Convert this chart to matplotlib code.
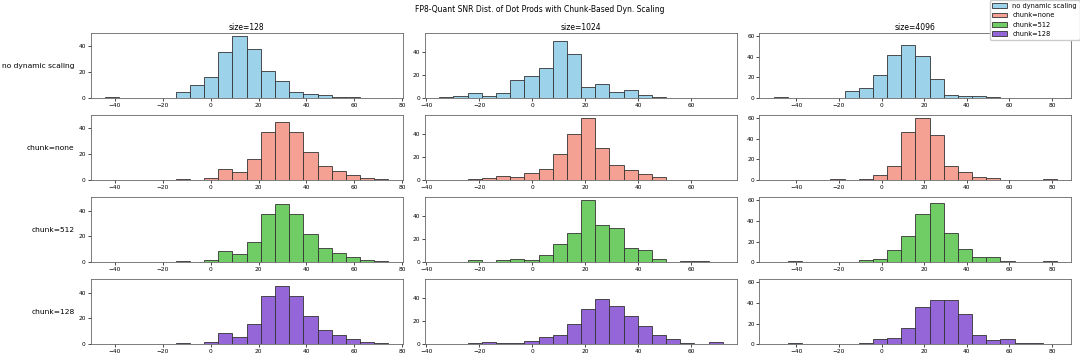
import matplotlib
matplotlib.use('Agg')
import matplotlib.pyplot as plt
import numpy as np

# column settings: histogram range (20 bins per column)
sizes = [128, 1024, 4096]
col_lo = [-44.2, -35.1, -50.6]
col_hi = [74.3, 72.0, 82.4]

row_names = ["no dynamic scaling", "chunk=none", "chunk=512", "chunk=128"]
row_colors = ["#9cd3ea", "#f4a092", "#70cc64", "#9466d8"]

# bin counts, [row][col] -> 20 bins
counts_128_nods = [1, 0, 0, 0, 0, 5, 10, 16, 36, 48, 38, 21, 13, 5, 3, 2, 1, 1, 0, 0]
counts_128_chunk = [0, 0, 0, 0, 0, 1, 0, 2, 9, 6, 16, 37, 45, 37, 22, 11, 7, 4, 2, 1]

counts_1024_nods = [1, 2, 4, 2, 4, 16, 19, 26, 50, 38, 10, 12, 5, 7, 3, 1, 0, 0, 0, 0]
counts_1024_none = [0, 0, 1, 2, 4, 3, 6, 10, 23, 40, 54, 28, 13, 9, 5, 3, 0, 0, 0, 0]
counts_1024_512 = [0, 0, 2, 0, 2, 3, 2, 6, 16, 25, 54, 32, 30, 12, 11, 3, 0, 1, 1, 0]
counts_1024_128 = [0, 0, 1, 2, 1, 1, 3, 6, 8, 18, 31, 39, 33, 25, 16, 8, 5, 1, 0, 2]

counts_4096_nods = [1, 0, 0, 0, 0, 7, 10, 22, 42, 51, 41, 18, 3, 2, 2, 1, 0, 0, 0, 0]
counts_4096_none = [0, 0, 0, 0, 1, 0, 1, 5, 14, 47, 60, 44, 14, 8, 3, 2, 0, 0, 0, 1]
counts_4096_512 = [0, 1, 0, 0, 0, 0, 2, 3, 12, 25, 47, 57, 28, 13, 5, 5, 1, 0, 0, 1]
counts_4096_128 = [0, 1, 0, 0, 0, 0, 1, 5, 6, 16, 36, 43, 43, 29, 9, 4, 5, 1, 1, 0]

counts = [
    [counts_128_nods, counts_1024_nods, counts_4096_nods],
    [counts_128_chunk, counts_1024_none, counts_4096_none],
    [counts_128_chunk, counts_1024_512, counts_4096_512],
    [counts_128_chunk, counts_1024_128, counts_4096_128],
]

fig, axes = plt.subplots(4, 3, figsize=(10.8, 3.62), dpi=100,
                         sharex='col', sharey='col')
fig.subplots_adjust(left=0.084, right=0.992, top=0.909, bottom=0.049,
                    wspace=0.072, hspace=0.26)

handles = []
for c in range(3):
    edges = np.linspace(col_lo[c], col_hi[c], 21)
    mids = (edges[:-1] + edges[1:]) / 2
    for r in range(4):
        ax = axes[r, c]
        _, _, patches = ax.hist(mids, bins=edges, weights=counts[r][c],
                                color=row_colors[r], edgecolor='#333333',
                                linewidth=0.6, label=row_names[r])
        if c == 0:
            handles.append(patches[0])
            ax.text(-0.052, 0.5, row_names[r], transform=ax.transAxes,
                    ha='right', va='center', fontsize=5.4)
        if r == 0:
            ax.set_title(f"size={sizes[c]}", fontsize=5.5, pad=2)
        ax.tick_params(labelsize=4.2, length=2, width=0.5, pad=1.5,
                       labelbottom=True)
        for s in ax.spines.values():
            s.set_linewidth(0.6)
            s.set_color('#666666')

fig.suptitle("FP8-Quant SNR Dist. of Dot Prods with Chunk-Based Dyn. Scaling",
             fontsize=5.5, y=0.985)
fig.legend(handles, row_names, loc='upper right', fontsize=4.8,
           borderaxespad=0.05, handlelength=2.2, framealpha=1)

fig.savefig("out.png", dpi=100)
